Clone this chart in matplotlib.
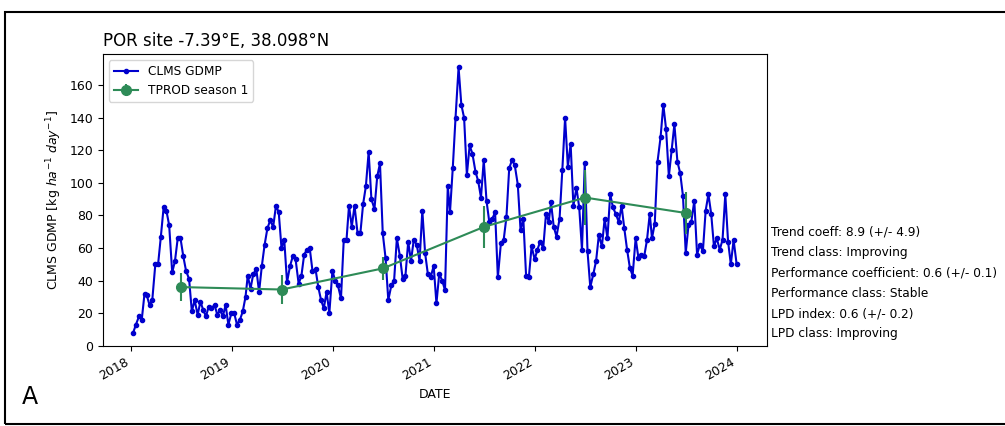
import pandas as pd
import numpy as np
from matplotlib import pyplot as plt
from matplotlib.patches import Rectangle

# CLMS GDMP dekadal values (kg ha-1 day-1), one list per year
gdmp_2018 = [8, 13, 18, 16, 32, 31, 25, 28, 50, 50, 67, 85, 83, 74, 45, 52, 66, 66,
             55, 46, 41, 21, 28, 19, 27, 22, 18, 24, 23, 25, 19, 22, 18, 25, 13, 20]
gdmp_2019 = [20, 13, 16, 21, 30, 43, 35, 44, 47, 33, 49, 62, 72, 77, 73, 86, 82, 60,
             65, 39, 49, 55, 53, 38, 43, 56, 59, 60, 46, 47, 36, 28, 23, 33, 20, 46]
gdmp_2020 = [40, 37, 29, 65, 65, 86, 73, 86, 69, 69, 87, 98, 119, 90, 84, 104, 112, 69,
             54, 28, 37, 40, 66, 55, 41, 43, 64, 52, 65, 62, 52, 83, 57, 44, 42, 49]
gdmp_2021 = [26, 44, 40, 34, 98, 82, 109, 140, 171, 148, 140, 105, 123, 118, 107, 101, 91, 114,
             89, 76, 78, 82, 42, 63, 65, 79, 109, 114, 111, 99, 71, 78, 43, 42, 61, 53]
gdmp_2022 = [59, 64, 60, 81, 76, 88, 73, 67, 78, 108, 140, 110, 124, 86, 97, 85, 59, 112,
             58, 36, 44, 52, 68, 61, 78, 66, 93, 85, 81, 76, 86, 72, 59, 48, 43, 66]
gdmp_2023 = [54, 56, 55, 65, 81, 66, 75, 113, 128, 148, 133, 104, 120, 136, 113, 106, 92, 57,
             74, 76, 89, 56, 62, 58, 83, 93, 81, 61, 66, 59, 65, 93, 64, 50, 65, 50]

years = [2018, 2019, 2020, 2021, 2022, 2023]

# TPROD season 1 (mid-year) with uncertainty
tprod_values = [36, 34.5, 47.5, 73, 91, 81.5]
tprod_errors = [8.5, 9, 7, 13, 17, 13]

site_title = "POR site -7.39°E, 38.098°N"
stats_lines = [
    "Trend coeff: 8.9 (+/- 4.9)",
    "Trend class: Improving",
    "Performance coefficient: 0.6 (+/- 0.1)",
    "Performance class: Stable",
    "LPD index: 0.6 (+/- 0.2)",
    "LPD class: Improving",
]


def dekad_dates(year_list):
    out = []
    for y in year_list:
        for m in range(1, 13):
            out.append(pd.Timestamp(y, m, 10))
            out.append(pd.Timestamp(y, m, 20))
            out.append(pd.Timestamp(y, m, 1) + pd.offsets.MonthEnd(0))
    return out


def main():
    gdmp = gdmp_2018 + gdmp_2019 + gdmp_2020 + gdmp_2021 + gdmp_2022 + gdmp_2023
    dates = dekad_dates(years)
    tprod_dates = [pd.Timestamp(y, 7, 1) for y in years]

    fig = plt.figure(figsize=(10.05, 4.26), dpi=100)
    ax = fig.add_axes([0.1025, 0.188, 0.6605, 0.685])

    ax.plot(dates, gdmp, color='mediumblue', marker='o', markersize=3,
            linewidth=1.5, label='CLMS GDMP')
    ax.errorbar(tprod_dates, tprod_values, yerr=tprod_errors, color='seagreen',
                marker='o', markersize=7, linewidth=1.5, label='TPROD season 1')

    ax.set_title(site_title, loc='left', fontsize=12)
    ax.set_xlabel('DATE', fontsize=9)
    ax.set_ylabel('CLMS GDMP [kg $ha^{-1}$ $day^{-1}$]', fontsize=9)
    ax.tick_params(labelsize=9)
    ax.legend(loc='upper left', fontsize=8.7)
    for lbl in ax.get_xticklabels():
        lbl.set_rotation(30)
        lbl.set_ha('right')

    y0 = 1 - 232 / 426
    step = 20.4 / 426
    for i, line in enumerate(stats_lines):
        fig.text(771 / 1005, y0 - i * step, line, va='center', ha='left', fontsize=8.7)

    fig.text(22 / 1005, 1 - 397 / 426, 'A', fontsize=17, va='center', ha='left')

    fig.patches.append(Rectangle((0.005, 0.005), 1.2, 0.966, transform=fig.transFigure,
                                 fill=False, edgecolor='black', linewidth=1.5))

    plt.savefig('out.png', dpi=100)


main()
